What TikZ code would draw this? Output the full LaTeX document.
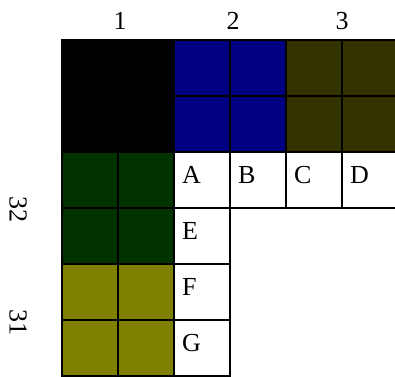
\documentclass[tikz,border=0pt]{standalone}
\usepackage{fontspec}
\setmainfont{Liberation Serif}
\usetikzlibrary{positioning}
\definecolor{navyblock}{RGB}{0,0,128}
\definecolor{darkolive}{RGB}{51,51,0}
\definecolor{darkgreen}{RGB}{0,51,0}
\definecolor{oliveblock}{RGB}{128,128,0}

\begin{document}
\begin{tikzpicture}[x=1pt, y=-1pt, font=\fontsize{26}{30}\selectfont,
    cell/.style={draw=black, line width=1.5pt},
    letter/.style={anchor=base west, inner sep=0pt},
    heading/.style={inner sep=0pt}]
\useasboundingbox (0,0) rectangle (395,376);
\clip (0,0) rectangle (395,376);
% coloured blocks, one cell = 56
\foreach \c/\r/\col in {0/0/black,1/0/black,0/1/black,1/1/black,
    2/0/navyblock,3/0/navyblock,2/1/navyblock,3/1/navyblock,
    4/0/darkolive,5/0/darkolive,4/1/darkolive,5/1/darkolive,
    0/2/darkgreen,1/2/darkgreen,0/3/darkgreen,1/3/darkgreen,
    0/4/oliveblock,1/4/oliveblock,0/5/oliveblock,1/5/oliveblock,
    2/2/white,3/2/white,4/2/white,5/2/white,
    2/3/white,2/4/white,2/5/white}
  \filldraw[cell, fill=\col] (62+56*\c,40+56*\r) rectangle ++(56,56);
% cell letters
\foreach \c/\r/\txt in {2/2/A,3/2/B,4/2/C,5/2/D,2/3/E,2/4/F,2/5/G}
  \node[letter] (\txt) at (62+56*\c+8,40+56*\r+31) {\txt};
% column and row headings
\node[heading] (col1) at (120,21) {1};
\node[heading] (col2) at (233,21) {2};
\node[heading] (col3) at (342,21) {3};
\node[heading, rotate=-90] (row32) at (18,209) {32};
\node[heading, rotate=-90] (row31) at (18,322) {31};
\end{tikzpicture}
\end{document}
